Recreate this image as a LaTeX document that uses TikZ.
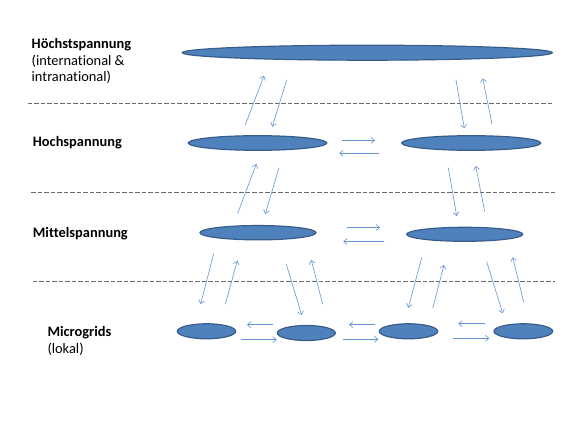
\documentclass[tikz,border=0pt]{standalone}
\usepackage{fontspec}
\setmainfont[Ligatures=NoCommon]{Carlito}
\usetikzlibrary{shapes.geometric,arrows.meta}
\definecolor{efill}{HTML}{4F81BD}
\definecolor{edraw}{HTML}{385D8A}
\definecolor{arr}{RGB}{100,148,212}
\definecolor{dash}{HTML}{6A6A6A}
\tikzset{
  grid/.style={ellipse, fill=efill, draw=edraw, line width=1.2pt, inner sep=0pt},
  flow/.style={draw=arr, line width=0.6pt, -{Straight Barb[length=3.5pt,width=6pt]}},
  sep/.style={draw=dash, line width=0.8pt, dash pattern=on 4.5pt off 2pt},
  lbl/.style={anchor=base west, inner sep=0pt, font=\fontsize{14.4}{17}\selectfont},
  blbl/.style={lbl, font=\fontsize{14.4}{17}\selectfont\bfseries}
}
\begin{document}
\begin{tikzpicture}[x=1pt,y=-1pt]
\useasboundingbox (0,0) rectangle (584,438);
% labels
\node[blbl] (l1) at (31.5,49) {Höchstspannung};
\node[lbl] (l1b) at (31.5,65.5) {(international \&};
\node[lbl] (l1c) at (31.5,82) {intranational)};
\node[blbl] (l2) at (32.7,146.7) {Hochspannung};
\node[blbl] (l3) at (32.7,237.7) {Mittelspannung};
\node[blbl] (l4) at (47.3,336.7) {Microgrids};
\node[lbl] (l4b) at (47.3,353.5) {(lokal)};
% separators
\coordinate (s1a) at (27.5,103.3); \coordinate (s1b) at (552,103.3);
\coordinate (s2a) at (31,192.3); \coordinate (s2b) at (555,192.3);
\coordinate (s3a) at (32.5,281.7); \coordinate (s3b) at (555,281.7);
\draw[sep] (s1a) -- (s1b);
\draw[sep] (s2a) -- (s2b);
\draw[sep] (s3a) -- (s3b);
% grids
\node[grid, minimum width=370pt, minimum height=15pt] (top) at (367.3,52.7) {};
\node[grid, minimum width=138.4pt, minimum height=14.6pt] (hl) at (257.5,143) {};
\node[grid, minimum width=139pt, minimum height=14.6pt] (hr) at (471.2,143) {};
\node[grid, minimum width=116pt, minimum height=14.3pt] (ml) at (258,232.7) {};
\node[grid, minimum width=116pt, minimum height=14pt] (mr) at (464.7,234.3) {};
\node[grid, minimum width=58.4pt, minimum height=15pt] (g1) at (206.5,331.3) {};
\node[grid, minimum width=58pt, minimum height=15pt] (g2) at (306.3,333) {};
\node[grid, minimum width=58.4pt, minimum height=15pt] (g3) at (408.5,331.3) {};
\node[grid, minimum width=58.7pt, minimum height=15pt] (g4) at (523.3,331.3) {};
% arrow end points: top <-> hoch
\coordinate (a1t) at (245.3,125); \coordinate (a1h) at (264,75.7);
\coordinate (a2t) at (286.7,80); \coordinate (a2h) at (272.3,126.7);
\coordinate (a3t) at (456,80); \coordinate (a3h) at (464.3,128.3);
\coordinate (a4t) at (492,124); \coordinate (a4h) at (482.7,78.3);
% hoch horizontal
\coordinate (h1t) at (342.3,140.3); \coordinate (h1h) at (375,140.3);
\coordinate (h2t) at (379.3,153.3); \coordinate (h2h) at (339.3,153.3);
% hoch <-> mittel
\coordinate (b1t) at (237.7,213.3); \coordinate (b1h) at (256.3,164);
\coordinate (b2t) at (279,167.7); \coordinate (b2h) at (265.3,214);
\coordinate (b3t) at (448.3,167.7); \coordinate (b3h) at (456.7,216);
\coordinate (b4t) at (484.7,211.7); \coordinate (b4h) at (475.7,166);
% mittel horizontal
\coordinate (m1t) at (347.3,227.5); \coordinate (m1h) at (380,227.5);
\coordinate (m2t) at (384,241.5); \coordinate (m2h) at (343.3,241.5);
% mittel <-> micro
\coordinate (c1t) at (213.7,253.3); \coordinate (c1h) at (200.7,304);
\coordinate (c2t) at (225.3,304.3); \coordinate (c2h) at (237.3,260.7);
\coordinate (c3t) at (286.3,264.3); \coordinate (c3h) at (301.7,315);
\coordinate (c4t) at (322.7,304.3); \coordinate (c4h) at (311.3,260);
\coordinate (c5t) at (421.7,257.7); \coordinate (c5h) at (408.3,307.7);
\coordinate (c6t) at (432.7,308.3); \coordinate (c6h) at (444,265);
\coordinate (c7t) at (486.7,261.7); \coordinate (c7h) at (502.7,313.3);
\coordinate (c8t) at (523.7,302.3); \coordinate (c8h) at (512.7,257.3);
% micro horizontal
\coordinate (d1t) at (272.7,324.7); \coordinate (d1h) at (247,324.7);
\coordinate (d2t) at (240.7,339.7); \coordinate (d2h) at (276.7,339.7);
\coordinate (d3t) at (375,324.7); \coordinate (d3h) at (349,324.7);
\coordinate (d4t) at (342.7,339.3); \coordinate (d4h) at (378.3,339.3);
\coordinate (d5t) at (484.7,323.7); \coordinate (d5h) at (458.3,323.7);
\coordinate (d6t) at (452.7,338.3); \coordinate (d6h) at (489.3,338.3);
\foreach \p in {a1,a2,a3,a4,h1,h2,b1,b2,b3,b4,m1,m2,c1,c2,c3,c4,c5,c6,c7,c8,d1,d2,d3,d4,d5,d6}
  \draw[flow] (\p t) -- (\p h);
\end{tikzpicture}
\end{document}
